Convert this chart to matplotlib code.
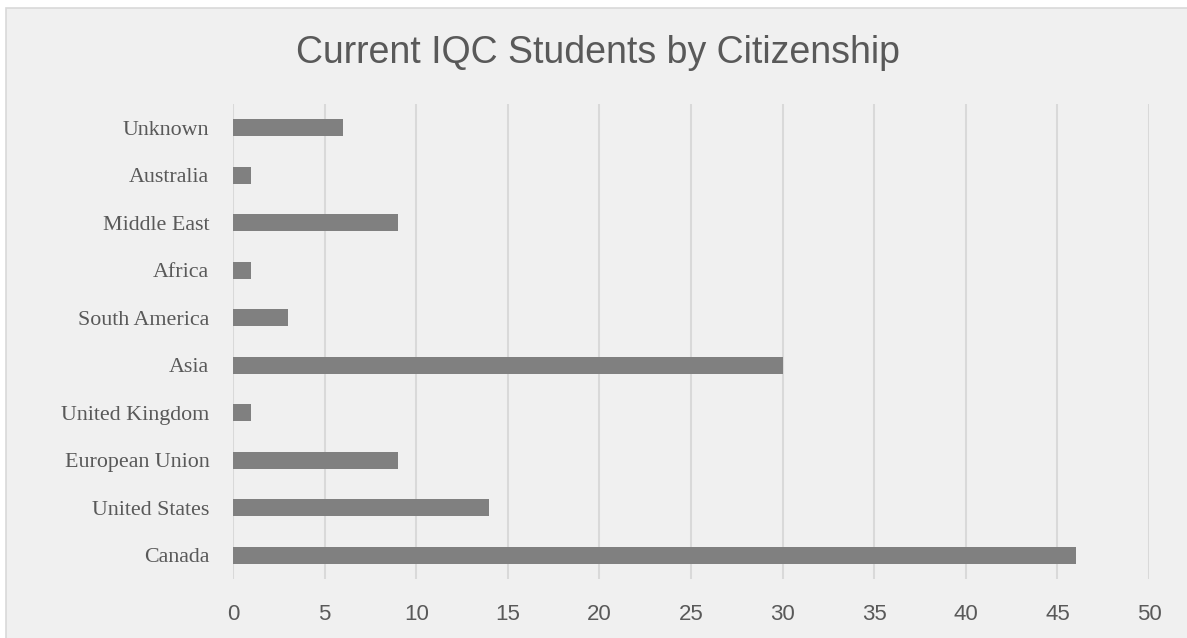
import numpy as np
import matplotlib.pyplot as plt
from matplotlib.patches import Rectangle

regions = ['Canada', 'United States', 'European Union', 'United Kingdom', 'Asia',
           'South America', 'Africa', 'Middle East', 'Australia', 'Unknown']
students = [46, 14, 9, 1, 30, 3, 1, 9, 1, 6]
xticks = [0, 5, 10, 15, 20, 25, 30, 35, 40, 45, 50]

fig = plt.figure(figsize=(11.87, 6.38), dpi=100)
fig.patch.set_facecolor('white')
# chart area box
fig.patches.append(Rectangle((6 / 1187, -0.01), 1.02, 1 - 8 / 638 + 0.01,
                             transform=fig.transFigure, facecolor='#f0f0f0',
                             edgecolor='#d9d9d9', linewidth=1.2, zorder=-1))

ax = fig.add_axes([233 / 1187, 1 - 579 / 638, (1149 - 233) / 1187, (579 - 104) / 638])
ax.set_facecolor('none')
ax.set_zorder(2)

y = np.arange(len(regions))
ax.barh(y, students, height=0.36, color='#808080', zorder=3)

ax.set_xlim(0, 50)
ax.set_ylim(-0.5, len(regions) - 0.5)
ax.set_xticks(xticks)
ax.set_yticks(y)
ax.set_yticklabels(regions, fontfamily='Liberation Serif', fontsize=15.8, color='#595959')
for lab in ax.get_xticklabels():
    lab.set_fontfamily('Liberation Sans')
    lab.set_fontsize(16)
    lab.set_color('#595959')
ax.tick_params(axis='both', length=0)
ax.tick_params(axis='x', pad=18)
ax.tick_params(axis='y', pad=17)
ax.grid(axis='x', color='#d9d9d9', linewidth=1.5, zorder=0)
for s in ax.spines.values():
    s.set_visible(False)

fig.text(598 / 1187, 1 - 63 / 638, 'Current IQC Students by Citizenship',
         ha='center', va='baseline', fontsize=27, color='#595959',
         fontfamily='Liberation Sans', zorder=3)

fig.savefig('out.png', dpi=100, facecolor=fig.get_facecolor())
